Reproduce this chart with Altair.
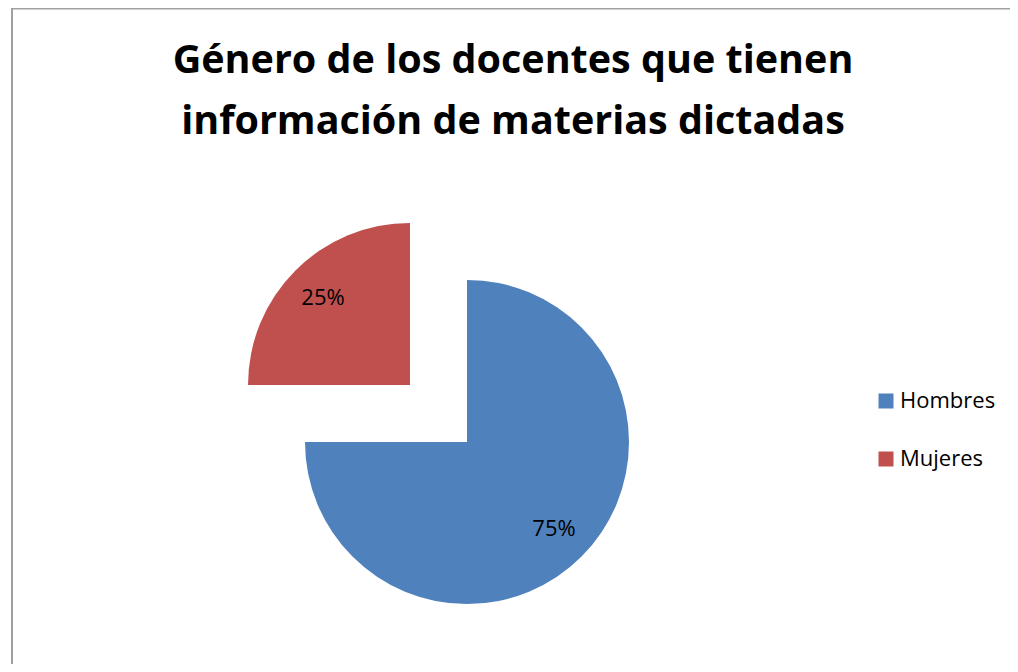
import altair as alt
import pandas as pd

generos = ["Hombres", "Mujeres"]
porcentajes = [75, 25]
etiquetas = ["75%", "25%"]
colores = ["#4F81BD", "#C0504D"]
titulo = ["Género de los docentes que tienen", "información de materias dictadas"]

df = pd.DataFrame({"genero": generos, "porcentaje": porcentajes, "etiqueta": etiquetas,
                   "orden": list(range(len(generos)))})

W, H = 1002, 656
CX, CY = 459, 434
R = 162
EXP = 57
FONT = "Open Sans"

stacked = alt.Chart(df).transform_stack(
    stack="porcentaje", groupby=[], as_=["t0", "t1"],
    sort=[alt.SortField("orden", order="ascending")],
).transform_calculate(tm="(datum.t0 + datum.t1) / 2")

theta_scale = alt.Scale(domain=[0, sum(porcentajes)])

color_enc = alt.Color(
    "genero:N",
    scale=alt.Scale(domain=generos, range=colores),
    legend=alt.Legend(
        orient="none", legendX=867, legendY=382, title=None,
        symbolType="square", symbolSize=225, symbolStrokeWidth=0,
        labelFont=FONT, labelFontSize=22, labelColor="black",
        labelOffset=3, rowPadding=36,
    ),
)

layers = []
for g, (cx, cy) in zip(generos, [(CX, CY), (CX - EXP, CY - EXP)]):
    part = stacked.transform_filter(alt.datum.genero == g)
    layers.append(
        part.mark_arc(outerRadius=R, x=cx, y=cy).encode(
            theta=alt.Theta("t0:Q", scale=theta_scale), theta2="t1:Q", color=color_enc
        )
    )
    layers.append(
        part.mark_text(radius=123, x=cx, y=cy, font=FONT, fontSize=22, color="black").encode(
            theta=alt.Theta("tm:Q", scale=theta_scale), text="etiqueta:N"
        )
    )

border_df = pd.DataFrame({"k": [0]})
left_rule = alt.Chart(border_df).mark_rule(color="#A0A0A0", strokeWidth=2).encode(
    x=alt.value(4), y=alt.value(0), y2=alt.value(H)
)
top_rule = alt.Chart(border_df).mark_rule(color="#A0A0A0", strokeWidth=1.5).encode(
    x=alt.value(3), x2=alt.value(W), y=alt.value(0.75)
)

chart = alt.layer(left_rule, top_rule, *layers).properties(
    width=W, height=H,
    autosize=alt.AutoSizeParams(type="none"),
    padding=0,
    title=alt.TitleParams(
        titulo, font=FONT, fontSize=39.5, fontWeight="bold", color="black",
        anchor="middle", offset=-166, baseline="alphabetic", lineHeight=61, dx=4,
    ),
).configure_view(stroke=None)

chart.save("out.html", embed_options={"renderer": "svg", "actions": False})
